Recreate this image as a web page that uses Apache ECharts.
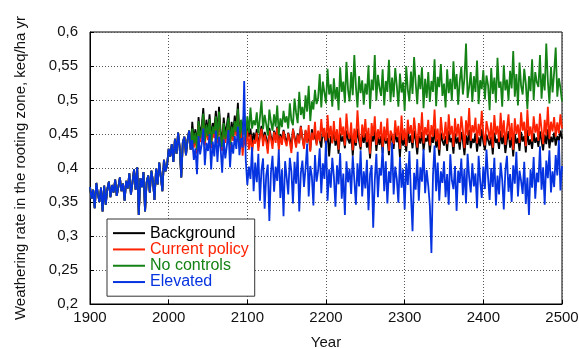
<!DOCTYPE html>
<html>
<head>
<meta charset="utf-8">
<script src="https://cdn.jsdelivr.net/npm/echarts@6/dist/echarts.min.js"></script>
<style>
  html, body { margin: 0; padding: 0; background: #fff; }
  #chart { width: 579px; height: 349px; }
</style>
</head>
<body>
<div id="chart"></div>
<script>
// Weathering rate in the rooting zone (keq/ha yr), two-year steps.
var startYear = 1900;
var stepYears = 2;
var xTicks = [1900, 2000, 2100, 2200, 2300, 2400, 2500];
var yTicks = [0.2, 0.25, 0.3, 0.35, 0.4, 0.45, 0.5, 0.55, 0.6];

// Common record 1900-2028, identical for all scenarios
var commonRecord = [
  0.372,0.355,0.368,0.341,0.378,0.362,0.350,0.371,0.336,0.374,0.346,0.369,0.380,0.357,0.375,
  0.364,0.383,0.359,0.372,0.386,0.366,0.377,0.352,0.381,0.370,0.392,0.361,0.379,0.398,0.368,
  0.401,0.331,0.385,0.372,0.394,0.336,0.379,0.389,0.364,0.396,0.381,0.353,0.399,0.376,0.408,
  0.388,0.366,0.412,0.395,0.404,0.428,0.417,0.435,0.409,0.443,0.421,0.452,0.430,0.386,0.438,0.446,0.419,0.441,0.455,0.427
];

// Scenario runs 2030-2500
var background = [
  0.468,0.441,0.457,0.432,0.475,0.449,0.462,0.488,0.446,0.471,
  0.452,0.479,0.443,0.466,0.458,0.484,0.447,0.490,0.455,0.437,
  0.474,0.449,0.463,0.481,0.440,0.468,0.452,0.477,0.459,0.496,
  0.448,0.470,0.455,0.482,0.441,0.463,0.446,0.458,0.435,0.452,
  0.440,0.457,0.431,0.449,0.462,0.438,0.453,0.444,0.428,0.459,
  0.447,0.436,0.455,0.442,0.461,0.433,0.450,0.439,0.456,0.445,
  0.437,0.452,0.443,0.428,0.458,0.446,0.434,0.451,0.440,0.462,
  0.444,0.431,0.455,0.439,0.448,0.426,0.457,0.442,0.450,0.436,
  0.453,0.441,0.430,0.458,0.445,0.435,0.452,0.417,0.447,0.438,
  0.456,0.433,0.444,0.421,0.451,0.439,0.447,0.429,0.455,0.442,
  0.436,0.452,0.418,0.445,0.433,0.458,0.440,0.427,0.449,0.437,
  0.451,0.430,0.443,0.414,0.448,0.439,0.456,0.425,0.446,0.434,
  0.447,0.422,0.453,0.436,0.444,0.419,0.450,0.441,0.428,0.455,
  0.438,0.446,0.416,0.452,0.433,0.444,0.424,0.458,0.437,0.448,
  0.429,0.455,0.441,0.420,0.447,0.436,0.453,0.426,0.444,0.439,
  0.450,0.423,0.446,0.437,0.458,0.430,0.442,0.418,0.452,0.440,
  0.433,0.447,0.425,0.455,0.438,0.444,0.421,0.451,0.436,0.445,
  0.427,0.453,0.440,0.419,0.448,0.434,0.456,0.429,0.443,0.437,
  0.451,0.424,0.445,0.432,0.457,0.438,0.426,0.449,0.441,0.433,
  0.446,0.420,0.452,0.437,0.443,0.428,0.455,0.435,0.448,0.422,
  0.441,0.454,0.430,0.446,0.417,0.450,0.436,0.444,0.425,0.453,
  0.439,0.447,0.423,0.456,0.434,0.442,0.428,0.451,0.437,0.445,
  0.431,0.454,0.440,0.426,0.449,0.435,0.457,0.429,0.446,0.438,
  0.452,0.433,0.447,0.440,0.455,0.443
];

var currentPolicy = [
  0.452,0.430,0.446,0.421,0.463,0.438,0.450,0.474,0.433,0.458,
  0.441,0.466,0.429,0.455,0.444,0.470,0.436,0.477,0.442,0.425,
  0.460,0.437,0.451,0.468,0.428,0.455,0.440,0.463,0.447,0.481,
  0.430,0.458,0.418,0.446,0.432,0.455,0.427,0.449,0.422,0.441,
  0.436,0.452,0.425,0.446,0.458,0.432,0.449,0.439,0.421,0.455,
  0.443,0.428,0.453,0.437,0.459,0.426,0.447,0.434,0.454,0.440,
  0.432,0.451,0.438,0.422,0.457,0.443,0.430,0.449,0.436,0.461,
  0.445,0.428,0.456,0.437,0.463,0.424,0.452,0.441,0.468,0.433,
  0.455,0.439,0.472,0.446,0.459,0.431,0.478,0.444,0.462,0.436,
  0.469,0.440,0.457,0.427,0.474,0.448,0.461,0.433,0.480,0.451,
  0.443,0.467,0.426,0.458,0.437,0.485,0.449,0.431,0.464,0.445,
  0.472,0.438,0.459,0.421,0.466,0.447,0.476,0.434,0.457,0.443,
  0.468,0.429,0.461,0.440,0.473,0.425,0.455,0.449,0.435,0.470,
  0.446,0.462,0.428,0.477,0.441,0.458,0.432,0.471,0.450,0.463,
  0.437,0.474,0.452,0.430,0.466,0.444,0.482,0.436,0.460,0.448,
  0.471,0.433,0.463,0.446,0.486,0.439,0.458,0.427,0.475,0.451,
  0.442,0.468,0.435,0.479,0.449,0.462,0.431,0.473,0.446,0.465,
  0.438,0.476,0.455,0.429,0.470,0.448,0.488,0.440,0.463,0.452,
  0.474,0.436,0.465,0.447,0.484,0.451,0.433,0.469,0.456,0.442,
  0.467,0.430,0.478,0.449,0.462,0.438,0.481,0.445,0.470,0.434,
  0.458,0.479,0.441,0.466,0.427,0.473,0.450,0.464,0.437,0.482,
  0.455,0.468,0.432,0.486,0.447,0.461,0.439,0.476,0.452,0.465,
  0.440,0.480,0.457,0.435,0.471,0.448,0.490,0.443,0.468,0.454,
  0.475,0.446,0.467,0.451,0.479,0.458
];

var noControls = [
  0.458,0.436,0.452,0.427,0.469,0.444,0.456,0.480,0.439,0.464,
  0.447,0.472,0.435,0.461,0.450,0.476,0.442,0.483,0.448,0.431,
  0.466,0.443,0.457,0.474,0.434,0.461,0.446,0.469,0.453,0.487,
  0.440,0.471,0.450,0.462,0.445,0.476,0.452,0.489,0.458,0.470,
  0.463,0.482,0.451,0.474,0.499,0.457,0.478,0.465,0.448,0.486,
  0.468,0.455,0.479,0.461,0.492,0.449,0.473,0.460,0.484,0.467,
  0.476,0.458,0.495,0.470,0.463,0.502,0.481,0.466,0.512,0.478,
  0.490,0.472,0.507,0.483,0.521,0.469,0.498,0.486,0.515,0.494,
  0.503,0.538,0.489,0.527,0.511,0.495,0.546,0.508,0.523,0.490,
  0.532,0.501,0.519,0.485,0.548,0.512,0.527,0.496,0.556,0.515,
  0.498,0.541,0.507,0.566,0.520,0.489,0.535,0.510,0.529,0.493,
  0.524,0.508,0.551,0.487,0.530,0.514,0.566,0.499,0.537,0.518,
  0.506,0.545,0.492,0.528,0.512,0.559,0.497,0.533,0.504,0.547,
  0.521,0.490,0.539,0.511,0.526,0.484,0.550,0.515,0.498,0.542,
  0.509,0.563,0.525,0.494,0.537,0.516,0.548,0.488,0.531,0.503,
  0.541,0.497,0.528,0.512,0.560,0.491,0.534,0.519,0.553,0.506,
  0.524,0.489,0.545,0.510,0.531,0.499,0.557,0.516,0.538,0.493,
  0.527,0.549,0.508,0.532,0.583,0.503,0.519,0.541,0.497,0.535,
  0.512,0.558,0.494,0.529,0.516,0.544,0.501,0.536,0.522,0.485,
  0.547,0.509,0.533,0.496,0.562,0.518,0.527,0.490,0.551,0.514,
  0.530,0.499,0.543,0.517,0.572,0.505,0.538,0.492,0.555,0.521,
  0.508,0.546,0.524,0.487,0.535,0.513,0.560,0.500,0.541,0.526,
  0.519,0.566,0.502,0.539,0.514,0.583,0.528,0.495,0.549,0.511,
  0.540,0.577,0.505,0.532,0.518,0.498
];

var elevated = [
  0.441,0.412,0.429,0.391,0.447,0.420,0.435,0.458,0.404,0.437,
  0.425,0.450,0.398,0.439,0.417,0.455,0.409,0.446,0.430,0.393,
  0.442,0.414,0.433,0.456,0.401,0.438,0.421,0.447,0.428,0.461,
  0.419,0.444,0.430,0.528,0.412,0.375,0.402,0.384,0.431,0.366,
  0.408,0.379,0.421,0.352,0.397,0.414,0.340,0.389,0.405,0.322,
  0.393,0.418,0.365,0.402,0.381,0.427,0.356,0.398,0.329,0.410,
  0.386,0.361,0.415,0.395,0.348,0.409,0.377,0.424,0.336,0.392,
  0.411,0.372,0.399,0.436,0.358,0.403,0.388,0.345,0.419,0.380,
  0.396,0.429,0.363,0.407,0.384,0.440,0.352,0.398,0.371,0.415,
  0.388,0.343,0.404,0.376,0.422,0.355,0.392,0.331,0.410,0.379,
  0.399,0.362,0.418,0.383,0.346,0.407,0.373,0.426,0.358,0.395,
  0.370,0.412,0.338,0.391,0.404,0.312,0.382,0.421,0.357,0.400,
  0.389,0.431,0.366,0.410,0.348,0.395,0.378,0.437,0.361,0.402,
  0.384,0.349,0.416,0.371,0.398,0.339,0.407,0.375,0.425,0.360,
  0.307,0.393,0.368,0.413,0.352,0.401,0.380,0.428,0.363,0.397,
  0.374,0.345,0.275,0.389,0.433,0.366,0.408,0.352,0.395,0.378,
  0.410,0.357,0.391,0.346,0.420,0.382,0.369,0.403,0.337,0.396,
  0.378,0.414,0.360,0.399,0.348,0.421,0.386,0.364,0.407,0.373,
  0.392,0.341,0.418,0.381,0.356,0.402,0.369,0.427,0.387,0.353,
  0.400,0.372,0.415,0.345,0.389,0.361,0.408,0.383,0.339,0.396,
  0.418,0.365,0.391,0.350,0.404,0.377,0.424,0.358,0.396,0.381,
  0.362,0.409,0.347,0.386,0.331,0.398,0.371,0.416,0.355,0.393,
  0.379,0.432,0.368,0.401,0.346,0.411,0.385,0.426,0.364,0.395,
  0.372,0.419,0.389,0.441,0.367,0.403
];

var seriesNames = ['Background', 'Current policy', 'No controls', 'Elevated'];
var seriesColors = ['#000000', '#ff2200', '#148214', '#0633e0'];
var seriesRuns = [background, currentPolicy, noControls, elevated];

function toPoints(run) {
  var vals = commonRecord.concat(run);
  return vals.map(function (v, i) { return [startYear + i * stepYears, v]; });
}

var chart = echarts.init(document.getElementById('chart'), null, { renderer: 'canvas' });
var font = '"Liberation Sans", Arial, sans-serif';

chart.setOption({
  animation: false,
  backgroundColor: '#ffffff',
  grid: {
    left: 90, right: 17, top: 32, bottom: 45,
    outerBoundsMode: 'none',
    containLabel: false,
    show: true, borderColor: '#000', borderWidth: 1, backgroundColor: 'transparent'
  },
  legend: {
    left: 107, top: 219,
    orient: 'vertical',
    backgroundColor: '#fff',
    borderColor: '#333', borderWidth: 1, borderRadius: 0,
    padding: [6, 6, 6, 6],
    icon: 'rect',
    itemWidth: 32, itemHeight: 2, itemGap: 0, itemTextGap: 3,
    textStyle: { fontFamily: font, fontSize: 16, lineHeight: 16.3 },
    data: seriesNames.map(function (n, i) {
      return { name: n, itemStyle: { color: seriesColors[i] }, textStyle: { color: seriesColors[i] } };
    })
  },
  xAxis: {
    type: 'value', min: xTicks[0], max: xTicks[xTicks.length - 1], interval: 100,
    name: 'Year', nameLocation: 'middle', nameGap: 31,
    nameTextStyle: { fontFamily: font, fontSize: 15, color: '#111' },
    axisLine: { show: true, lineStyle: { color: '#000', width: 1 } },
    axisTick: { show: true, inside: true, length: 4, lineStyle: { color: '#000' } },
    axisLabel: {
      fontFamily: font, fontSize: 15, color: '#111', margin: 6,
      formatter: function (v) { return String(v); }
    },
    splitLine: { show: true, lineStyle: { color: '#555', type: [1, 2], width: 1 } }
  },
  yAxis: {
    type: 'value', min: yTicks[0], max: yTicks[yTicks.length - 1], interval: 0.05,
    name: 'Weathering rate in the rooting zone, keq/ha yr',
    nameLocation: 'middle', nameGap: 62,
    nameTextStyle: { fontFamily: font, fontSize: 15, color: '#111' },
    axisLine: { show: true, lineStyle: { color: '#000', width: 1 } },
    axisTick: { show: true, inside: true, length: 4, lineStyle: { color: '#000' } },
    axisLabel: {
      fontFamily: font, fontSize: 15, color: '#111', margin: 12,
      formatter: function (v) { return String(+v.toFixed(2)).replace('.', ','); }
    },
    splitLine: { show: true, lineStyle: { color: '#555', type: [1, 2], width: 1 } }
  },
  series: seriesRuns.map(function (run, i) {
    return {
      name: seriesNames[i],
      type: 'line',
      data: toPoints(run),
      symbol: 'none',
      showSymbol: false,
      lineStyle: { color: seriesColors[i], width: 1.8 },
      itemStyle: { color: seriesColors[i] },
      emphasis: { disabled: true }
    };
  })
});
</script>
</body>
</html>
